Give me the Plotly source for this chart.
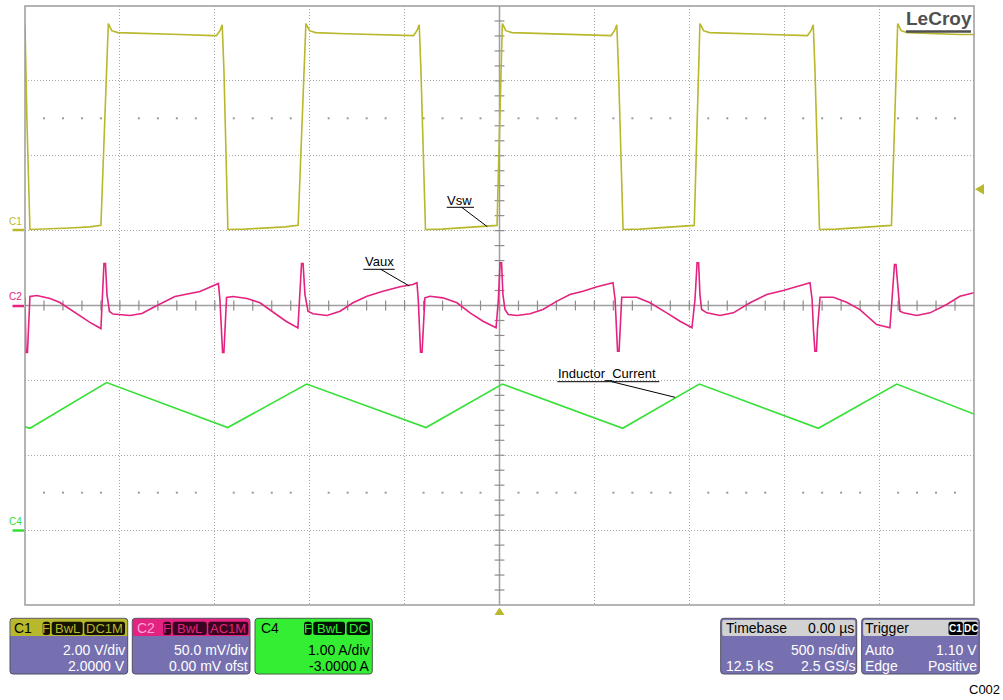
import plotly.graph_objects as go

# ---------------- data ----------------
# Channel 1: switch-node voltage Vsw (V)
c1_time_ns = [-2500, -2490, -2474,
              -2395, -2263, -2158, -2100,
              -2061, -2043, -2011, -1868, -1683, -1510, -1491, -1473, -1461, -1452,
              -1431,
              -1341, -1236, -1130, -1061,
              -1020, -1001, -969, -814, -640, -472, -453, -435, -423, -414,
              -390,
              -303, -198, -92, -13,
              15, 33, 65, 224, 398, 566, 588, 606, 618, 627,
              651,
              740, 846, 951, 1026,
              1056, 1075, 1106, 1267, 1436, 1604, 1623, 1641, 1653, 1662,
              1686,
              1773, 1878, 1984, 2065,
              2098, 2116, 2148, 2295, 2426, 2500]
c1_vsw_V = [5.50, 2.97, 0.03,
            0.04, 0.07, 0.10, 0.14,
            5.53, 5.34, 5.29, 5.26, 5.24, 5.21, 5.21, 5.34, 5.50, 4.30,
            0.03,
            0.04, 0.07, 0.10, 0.14,
            5.53, 5.34, 5.29, 5.26, 5.24, 5.21, 5.21, 5.34, 5.50, 4.30,
            0.03,
            0.04, 0.07, 0.10, 0.14,
            5.53, 5.34, 5.29, 5.26, 5.24, 5.21, 5.21, 5.34, 5.50, 4.30,
            0.03,
            0.04, 0.07, 0.10, 0.14,
            5.53, 5.34, 5.29, 5.26, 5.24, 5.21, 5.21, 5.34, 5.50, 4.30,
            0.03,
            0.04, 0.07, 0.10, 0.14,
            5.53, 5.34, 5.29, 5.26, 5.24, 5.24]

# Channel 2: auxiliary winding voltage Vaux (mV, AC coupled)
c2_time_ns = [-2500, -2495, -2487, -2482, -2474, -2437, -2368, -2316, -2237, -2158, -2100,
              -2094, -2084, -2076, -2068, -2055, -2036, -1947, -1884, -1815, -1710, -1578, -1515, -1481,
              -1473, -1465, -1459, -1452, -1446, -1438, -1404, -1330, -1262, -1193, -1125, -1062,
              -1054, -1043, -1035, -1025, -1009, -983, -909, -840, -772, -698, -614, -524, -456, -435,
              -428, -422, -416, -408, -403, -393, -366, -298, -224, -155, -87, -18,
              -6, 3, 11, 18, 29, 46, 92, 161, 229, 303, 371, 440, 514, 598,
              609, 616, 622, 630, 635, 644, 723, 793, 881, 951, 1014,
              1030, 1041, 1049, 1056, 1065, 1092, 1162, 1232, 1320, 1408, 1495, 1636,
              1647, 1654, 1662, 1670, 1675, 1689, 1759, 1829, 1899, 1987, 2057,
              2068, 2081, 2089, 2100, 2110, 2128, 2198, 2268, 2356, 2426, 2500]
c2_vaux_mV = [5.3, -31.4, -31.4, -16.0, 6.0, 6.7, 4.7, 2.0, -4.7, -11.3, -15.4,
              4.0, 28.0, 28.0, 7.3, -4.0, -5.7, -6.7, -5.3, -0.7, 6.0, 9.3, 12.7, 14.7,
              4.0, -16.0, -31.4, -31.4, -16.0, 5.3, 6.0, 4.7, 1.8, -4.7, -10.5, -15.0,
              4.0, 28.0, 28.0, 7.3, -3.8, -5.5, -6.7, -3.8, 1.8, 6.2, 9.5, 12.5, 14.0, 15.2,
              4.0, -16.0, -31.2, -31.2, -16.0, 5.1, 6.2, 5.1, 1.8, -4.9, -10.5, -14.9,
              4.0, 28.5, 28.5, 7.3, -2.7, -6.0, -6.7, -5.5, -2.7, 2.9, 7.3, 9.5, 12.5, 15.2,
              4.0, -16.0, -30.5, -30.5, -16.0, 5.5, 5.5, 1.8, -4.9, -10.5, -14.9,
              4.0, 28.5, 28.5, 7.3, -2.7, -4.9, -6.7, -4.9, 1.8, 7.3, 10.0, 15.2,
              4.0, -16.0, -30.5, -30.5, -16.0, 5.5, 5.5, 2.2, -2.7, -12.7, -14.9,
              4.0, 27.4, 27.4, 7.3, -3.8, -4.9, -6.7, -4.9, 0.7, 6.2, 8.5]

# Channel 4: inductor current (A)
c4_time_ns = [-2500, -2474, -2070, -1432, -1016, -387, 15, 649, 1053, 1680, 2093, 2500]
c4_il_A = [1.38, 1.36, 1.97, 1.37, 1.95, 1.37, 1.95, 1.36, 1.95, 1.36, 1.95, 1.55]

# Scope settings (from the info panels)
timebase_ns_per_div = 500
c1_vdiv, c1_offset = 2.0, 2.0      # V/div, V
c2_vdiv, c2_offset = 50.0, 0.0     # mV/div, mV
c4_vdiv, c4_offset = 1.0, -3.0     # A/div, A
trigger_level_V = 1.10

# Colours
C1_COL = "#B8B82C"
C2_COL = "#E4227F"
C4_COL = "#36E036"
PANEL = "#7670B0"
GRID = "#A8A8A8"
AXIS = "#9C9C9C"
FONT = "Liberation Sans, Arial, sans-serif"

# ---------------- geometry ----------------
W, H = 1003, 700
L, R, T, B = 25, 974, 6, 605          # plot-area edges in px


def X(px):
    return (px - L) / (R - L)


def Y(py):
    return (B - py) / (B - T)


def to_div(vals, vdiv, off):
    return [(v + off) / vdiv for v in vals]


fig = go.Figure()

# graticule: dot rows at +-2.5 div and centre-axis tick marks
sub_div = [k / 5 for k in range(-25, 26)]
dot_x = [d * timebase_ns_per_div for d in sub_div if abs(d) < 5 and round(d * 5) % 5 != 0]
fig.add_trace(go.Scatter(x=dot_x * 2, y=[2.5] * len(dot_x) + [-2.5] * len(dot_x),
                         mode="markers", marker=dict(symbol="square", size=2, color="#9A9A9A"),
                         hoverinfo="skip"))
tick_x = [d * timebase_ns_per_div for d in sub_div if abs(d) < 5]
fig.add_trace(go.Scatter(x=tick_x, y=[0] * len(tick_x), mode="markers",
                         marker=dict(symbol="line-ns-open", size=7, color="#8C8C8C",
                                     line=dict(width=1.2, color="#8C8C8C")),
                         hoverinfo="skip"))
tick_y = [d for d in sub_div if abs(d) < 4]
fig.add_trace(go.Scatter(x=[0] * len(tick_y), y=tick_y, mode="markers",
                         marker=dict(symbol="line-ew-open", size=7, color="#8C8C8C",
                                     line=dict(width=1.2, color="#8C8C8C")),
                         hoverinfo="skip"))

# waveforms
fig.add_trace(go.Scatter(x=c1_time_ns, y=to_div(c1_vsw_V, c1_vdiv, c1_offset), mode="lines",
                         line=dict(color=C1_COL, width=1.6), name="C1"))
fig.add_trace(go.Scatter(x=c2_time_ns, y=to_div(c2_vaux_mV, c2_vdiv, c2_offset), mode="lines",
                         line=dict(color=C2_COL, width=1.6), name="C2"))
fig.add_trace(go.Scatter(x=c4_time_ns, y=to_div(c4_il_A, c4_vdiv, c4_offset), mode="lines",
                         line=dict(color=C4_COL, width=1.6), name="C4"))

shapes = []
annotations = []


def line_px(x0, y0, x1, y1, color, width=1, layer="above"):
    shapes.append(dict(type="line", xref="paper", yref="paper", x0=X(x0), y0=Y(y0), x1=X(x1), y1=Y(y1),
                       line=dict(color=color, width=width), layer=layer))


def rrect(x0, y0, x1, y1, r, fill, border=None, top_only=False):
    rx, ry = r / (R - L), r / (B - T)
    a, b, c, d = X(x0), X(x1), Y(y0), Y(y1)
    if top_only:
        p = (f"M{a},{d} L{a},{c-ry} Q{a},{c} {a+rx},{c} L{b-rx},{c} Q{b},{c} {b},{c-ry} "
             f"L{b},{d} Z")
    else:
        p = (f"M{a+rx},{c} L{b-rx},{c} Q{b},{c} {b},{c-ry} L{b},{d+ry} Q{b},{d} {b-rx},{d} "
             f"L{a+rx},{d} Q{a},{d} {a},{d+ry} L{a},{c-ry} Q{a},{c} {a+rx},{c} Z")
    shapes.append(dict(type="path", xref="paper", yref="paper", path=p, fillcolor=fill,
                       line=dict(color=border or fill, width=1 if border else 0)))


def txt(px, py, s, color="black", size=14, xa="left", ya="middle", bold=False):
    if bold:
        s = f"<b>{s}</b>"
    annotations.append(dict(x=X(px), y=Y(py), xref="paper", yref="paper", text=s, showarrow=False,
                            xanchor=xa, yanchor=ya, font=dict(family=FONT, size=size, color=color),
                            borderpad=0))


# centre cross and border (drawn below the traces)
shapes.append(dict(type="line", xref="x", yref="y", x0=0, x1=0, y0=-4, y1=4, layer="below",
                   line=dict(color=AXIS, width=1.5)))
shapes.append(dict(type="line", xref="x", yref="y", x0=-2500, x1=2500, y0=0, y1=0, layer="below",
                   line=dict(color=AXIS, width=1.5)))
shapes.append(dict(type="rect", xref="paper", yref="paper", x0=0, x1=1, y0=0, y1=1,
                   line=dict(color=AXIS, width=1.5)))

# channel ground markers on the left
for lab, col, py in [("C1", C1_COL, 230), ("C2", C2_COL, 306), ("C4", C4_COL, 530.5)]:
    line_px(12.5, py, 24, py, col, 2.5)
    txt(15, py - 9, lab, col, 10, xa="center")

# trigger markers
shapes.append(dict(type="path", xref="paper", yref="paper", fillcolor=C1_COL, line=dict(width=0),
                   path=f"M{X(975)},{Y(189.3)} L{X(984)},{Y(184)} L{X(984)},{Y(194.6)} Z"))
shapes.append(dict(type="path", xref="paper", yref="paper", fillcolor=C1_COL, line=dict(width=0),
                   path=f"M{X(499.5)},{Y(607.5)} L{X(504.5)},{Y(615)} L{X(494.5)},{Y(615)} Z"))

# LeCroy logo
txt(938.5, 18, "LeCroy", "#505050", 19, xa="center", bold=True)
line_px(906, 31.5, 971, 31.5, "#505050", 2.5)

# trace labels with leader lines
txt(459.3, 200, "Vsw", "black", 13, xa="center")
line_px(446.7, 207.3, 474, 207.3, "black", 1)
line_px(461.7, 207.3, 487.3, 226.7, "black", 1)
txt(379, 261.5, "Vaux", "black", 13, xa="center")
line_px(363.3, 269.3, 394.7, 269.3, "black", 1)
line_px(380.7, 269.3, 409.3, 286, "black", 1)
txt(557.3, 373.5, "Inductor_Current", "black", 13, xa="left")
line_px(557.3, 381.7, 659.3, 381.7, "black", 1)
line_px(611.7, 381.7, 675, 397.3, "black", 1)

# ---------------- info panels ----------------
PT, PB, HB = 618.3, 674, 636        # panel top, bottom, header bottom
ROW_H, ROW2, ROW3 = 628.3, 649.5, 665.5

# C1
rrect(10, PT, 127.7, PB, 3, PANEL, "#505060")
rrect(10.5, PT + 0.5, 127.2, HB, 3, C1_COL, top_only=True)
txt(13, ROW_H, "C1", "black", 14)
for s, a, b in [("F", 42.7, 50), ("BwL", 51.7, 82.7), ("DC1M", 84.3, 125)]:
    rrect(a, 621.7, b, 635, 2.5, "#141400")
    txt((a + b) / 2, 628.5, s, C1_COL, 13, xa="center")
txt(125.5, ROW2, "2.00 V/div", "white", 14, xa="right")
txt(125.5, ROW3, "2.0000 V", "white", 14, xa="right")

# C2
rrect(132.3, PT, 250, PB, 3, PANEL, "#505060")
rrect(132.8, PT + 0.5, 249.5, HB, 3, C2_COL, top_only=True)
txt(135.5, ROW_H, "C2", "#F7A8D8", 14)
for s, a, b in [("F", 163.3, 171), ("BwL", 172.7, 206.7), ("AC1M", 208.3, 248.3)]:
    rrect(a, 621.7, b, 635, 2.5, "#3A0420")
    txt((a + b) / 2, 628.5, s, C2_COL, 13, xa="center")
txt(249.3, ROW2, "50.0 mV/div", "white", 14, xa="right")
txt(249.3, ROW3, "0.00 mV ofst", "white", 14, xa="right")

# C4
rrect(255, PT, 372.3, PB, 3, "#33EE33", "#406040")
txt(260, ROW_H, "C4", "black", 14)
for s, a, b in [("F", 304, 311.7), ("BwL", 313.3, 345), ("DC", 346.7, 370)]:
    rrect(a, 621.7, b, 635, 2.5, "#041404")
    txt((a + b) / 2, 628.5, s, "#33EE33", 13, xa="center")
txt(370.7, ROW2, "1.00 A/div", "black", 14, xa="right")
txt(370.7, ROW3, "-3.0000 A", "black", 14, xa="right")

# Timebase
rrect(720.7, PT, 856.7, PB, 3, PANEL, "#505060")
rrect(722.2, 620, 855.2, HB, 2, "#D2D2D2")
txt(724.5, ROW_H, "Timebase", "black", 14)
txt(855.3, ROW_H, "0.00 µs", "black", 14, xa="right")
txt(855.5, ROW2, "500 ns/div", "white", 14, xa="right")
txt(724.5, ROW3, "12.5 kS", "white", 14)
txt(855.5, ROW3, "2.5 GS/s", "white", 14, xa="right")

# Trigger
rrect(861.7, PT, 979.3, PB, 3, PANEL, "#505060")
rrect(863.2, 620, 977.8, HB, 2, "#D2D2D2")
txt(863.5, ROW_H, "Trigger", "black", 14)
for s, a, b in [("C1", 948.5, 962.8), ("DC", 963.8, 977.6)]:
    rrect(a, 621.7, b, 635, 2.5, "black")
    txt((a + b) / 2, 628.5, s, "white", 10, xa="center", bold=True)
txt(863.5, ROW2, "Auto", "white", 14)
txt(977.8, ROW2, f"{trigger_level_V:.2f} V", "white", 14, xa="right")
txt(863.5, ROW3, "Edge", "white", 14)
txt(977.8, ROW3, "Positive", "white", 14, xa="right")

txt(1001, 690, "C002", "black", 13, xa="right")

fig.update_layout(
    width=W, height=H, autosize=False,
    margin=dict(l=L, r=W - R, t=T, b=H - B, pad=0),
    paper_bgcolor="white", plot_bgcolor="white",
    showlegend=False,
    shapes=shapes, annotations=annotations,
    xaxis=dict(range=[-5 * timebase_ns_per_div, 5 * timebase_ns_per_div], dtick=timebase_ns_per_div,
               tick0=0, showgrid=True, gridcolor=GRID, griddash="1px,2px", gridwidth=1,
               zeroline=False, showticklabels=False, ticks="", fixedrange=True),
    yaxis=dict(range=[-4, 4], dtick=1, tick0=0, showgrid=True, gridcolor=GRID, griddash="1px,2px",
               gridwidth=1, zeroline=False, showticklabels=False, ticks="", fixedrange=True),
)

fig.write_html("out.html", config={"displayModeBar": False},
               post_script="document.body.style.margin='0';document.body.style.overflow='hidden';")
